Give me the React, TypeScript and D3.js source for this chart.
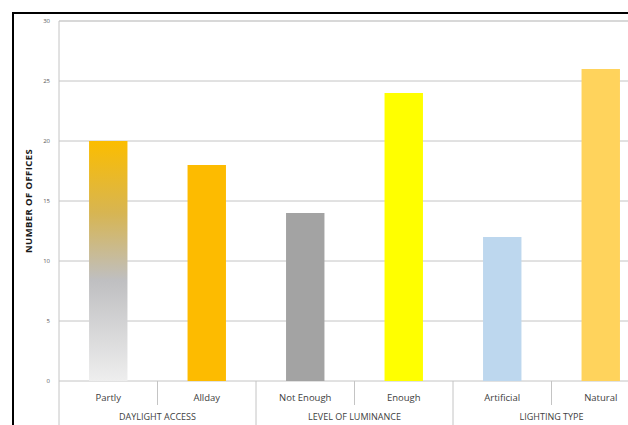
import * as d3 from 'd3';

const categories = ['Partly', 'Allday', 'Not Enough', 'Enough', 'Artificial', 'Natural'];
const offices = [20, 18, 14, 24, 12, 26];
const groups = ['DAYLIGHT ACCESS', 'LEVEL OF LUMINANCE', 'LIGHTING TYPE'];
const barColors = ['url(#partlyGrad)', '#fdbb00', '#a3a3a3', '#ffff00', '#bdd7ee', '#ffd35c'];
const yTicks = [0, 5, 10, 15, 20, 25, 30];

const W = 628, H = 425;
const plot = { left: 59, top: 21, bottom: 381, right: 650 };

export default function App() {
  const x = d3.scaleBand<string>()
    .domain(categories)
    .range([plot.left, plot.right])
    .paddingInner(0.61)
    .paddingOuter(0.305);
  const y = d3.scaleLinear().domain([0, 30]).range([plot.bottom, plot.top]);
  const step = x.step();
  const bandStart = (i: number) => plot.left + i * step;

  const font = '"Open Sans", "Liberation Sans", sans-serif';

  return (
    <svg width={W} height={H} style={{ position: 'absolute', left: 0, top: 0, background: '#fff' }}>
      <defs>
        <linearGradient id="partlyGrad" x1="0" y1="0" x2="0" y2="1">
          <stop offset="0" stopColor="#fbbd00" />
          <stop offset="0.3" stopColor="#d7b552" />
          <stop offset="0.58" stopColor="#bfbfc1" />
          <stop offset="1" stopColor="#eeeeee" />
        </linearGradient>
      </defs>

      {/* outer frame */}
      <rect x={13} y={13} width={W} height={H} fill="none" stroke="#000" strokeWidth={2} />

      {/* gridlines + y labels */}
      {yTicks.map(t => (
        <g key={t}>
          <line x1={plot.left} x2={W} y1={y(t)} y2={y(t)}
            stroke={t === 30 ? '#d8d8d8' : '#c4c4c4'} strokeWidth={t === 30 ? 2 : 1} />
          <text x={50} y={y(t)} dy="0.35em" textAnchor="end" fontSize={6}
            fill="#595959" fontFamily={font}>{t}</text>
        </g>
      ))}

      {/* y axis line */}
      <line x1={plot.left} x2={plot.left} y1={plot.top} y2={H} stroke="#c4c4c4" />

      {/* bars */}
      {categories.map((c, i) => (
        <rect key={c} x={x(c)} y={y(offices[i])} width={x.bandwidth()}
          height={y(0) - y(offices[i])} fill={barColors[i]} />
      ))}

      {/* category dividers */}
      {categories.slice(1).map((c, i) => {
        const xi = bandStart(i + 1);
        const long = (i + 1) % 2 === 0;
        return <line key={c} x1={xi} x2={xi} y1={plot.bottom} y2={long ? H : 405} stroke="#c4c4c4" />;
      })}

      {/* category labels */}
      {categories.map(c => (
        <text key={c} x={(x(c) ?? 0) + x.bandwidth() / 2} y={401} textAnchor="middle"
          fontSize={9.5} fill="#404040" fontFamily={font}>{c}</text>
      ))}

      {/* group labels */}
      {groups.map((g, i) => (
        <text key={g} x={bandStart(i * 2) + step} y={420} textAnchor="middle"
          fontSize={9} fill="#404040" fontFamily={font}>{g}</text>
      ))}

      {/* y axis title */}
      <text transform={`translate(32,${(plot.top + plot.bottom) / 2}) rotate(-90)`}
        textAnchor="middle" fontSize={9.5} fontWeight="bold" letterSpacing={0.4}
        fill="#1a1a1a" fontFamily={font}>
        NUMBER OF OFFICES
      </text>
    </svg>
  );
}
